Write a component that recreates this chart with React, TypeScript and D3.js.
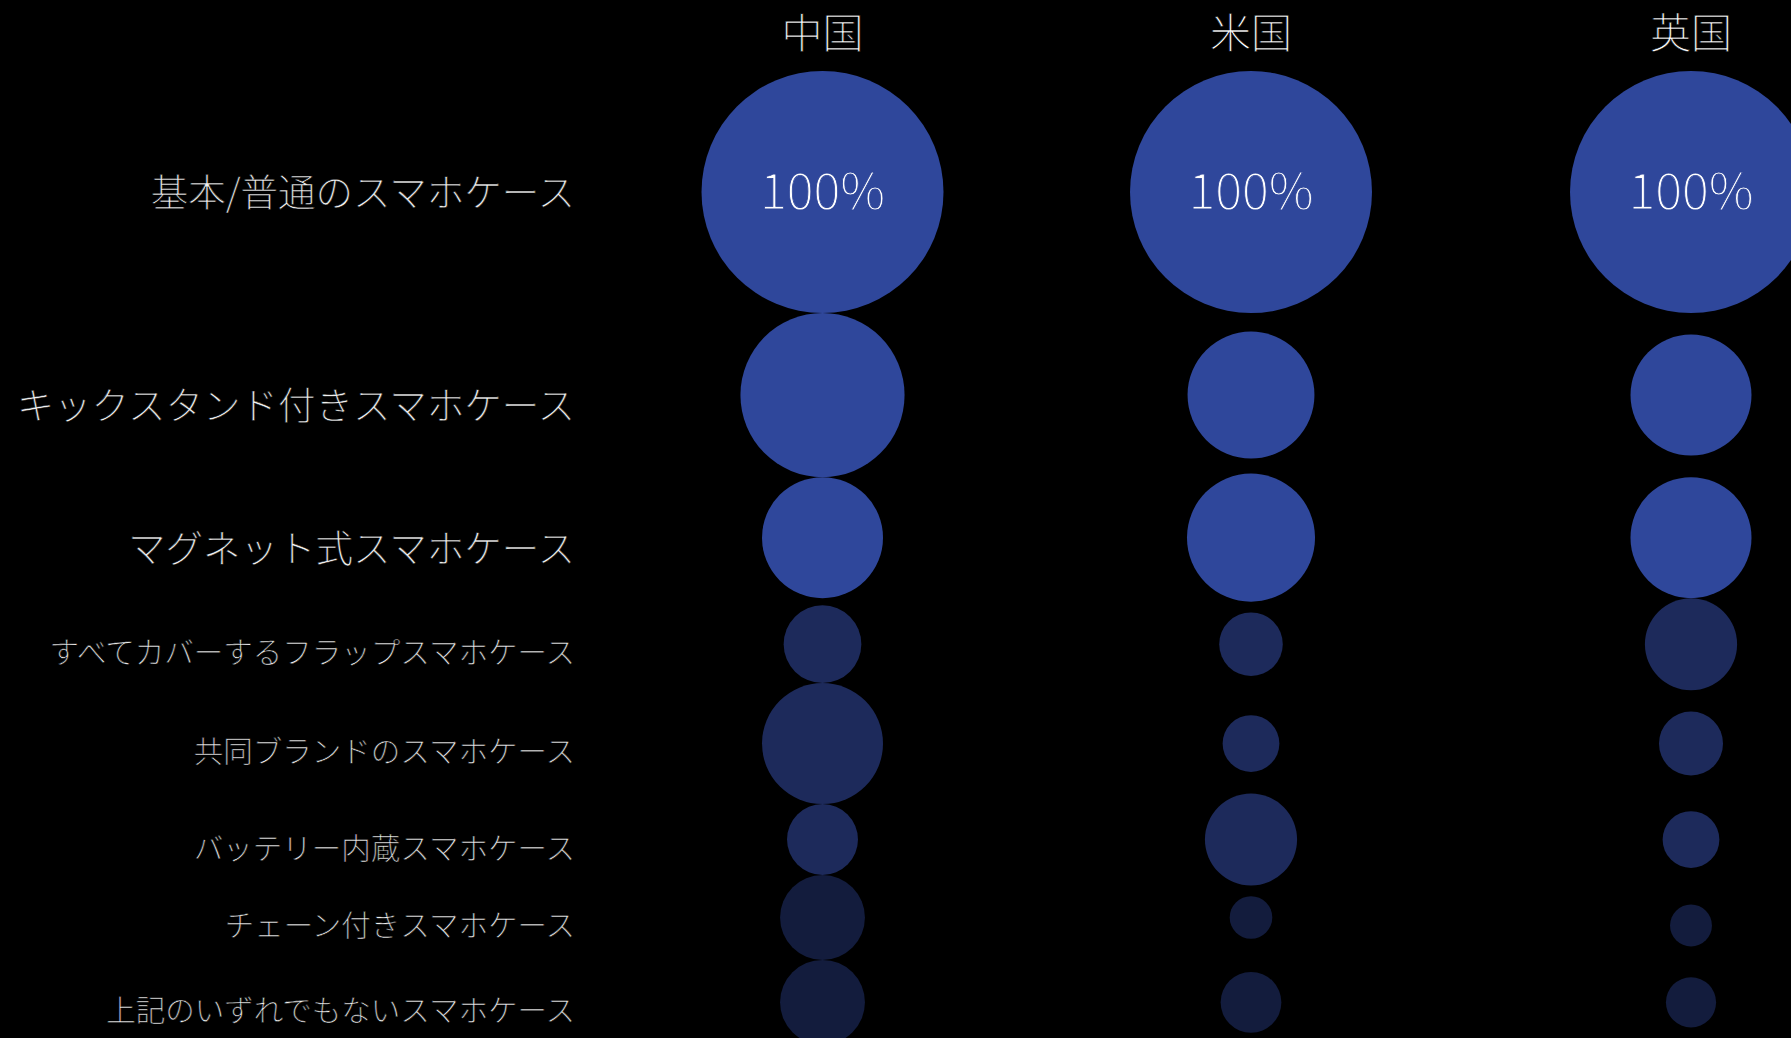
import React from "react";
import * as d3 from "d3";

// ---- data ----
const countries = ["中国", "米国", "英国"];
const caseTypes = [
  "基本/普通のスマホケース",
  "キックスタンド付きスマホケース",
  "マグネット式スマホケース",
  "すべてカバーするフラップスマホケース",
  "共同ブランドのスマホケース",
  "バッテリー内蔵スマホケース",
  "チェーン付きスマホケース",
  "上記のいずれでもないスマホケース",
];
const chinaValues = [100, 46, 25, 10.3, 25, 8.6, 12.3, 12.3];
const usValues = [100, 27.5, 28, 6.9, 5.5, 14.5, 3.1, 6.3];
const ukValues = [100, 25, 25, 14.5, 7, 5.5, 3, 4.3];
const seriesValues = [chinaValues, usValues, ukValues];

// ---- layout / style ----
const W = 1791;
const H = 1038;
const FONT = "'Noto Sans CJK JP', 'Noto Sans', sans-serif";
const colX = [822.5, 1251, 1691];
const firstRowY = 192;
const maxR = 121;
const labelRight = 575;
const tierOf = [0, 0, 0, 1, 1, 1, 2, 2];
const tierColor = ["#2f479b", "#1d2a5b", "#131c3d"];
const labelSize = [37.5, 37.5, 37.5, 29.5, 29.5, 29.5, 29.5, 29.5];
const labelDy = [0, 10, 11, 8, 8, 9, 8, 8];
const nudge: Record<string, number> = { "2-6": 8 };

export default function App() {
  const r = d3.scaleSqrt().domain([0, 100]).range([0, maxR]);
  const x = d3.scaleOrdinal<string, number>().domain(countries).range(colX);

  // stack rows so that the tallest neighbouring bubbles just touch
  const rowY: number[] = [];
  caseTypes.forEach((_, i) => {
    if (i === 0) {
      rowY.push(firstRowY);
    } else {
      const gap = d3.max(seriesValues, (s) => r(s[i - 1]) + r(s[i])) as number;
      rowY.push(rowY[i - 1] + gap);
    }
  });

  return (
    <svg
      width={W}
      height={H}
      style={{ position: "absolute", left: 0, top: 0, display: "block", background: "#000" }}
    >
      <rect x={0} y={0} width={W} height={H} fill="#000" />
      {countries.map((c) => (
        <text
          key={c}
          x={x(c)}
          y={48}
          textAnchor="middle"
          fontFamily={FONT}
          fontWeight={300}
          fontSize={41}
          fill="#ffffff"
          stroke="#000"
          strokeWidth={0.6}
        >
          {c}
        </text>
      ))}
      {caseTypes.map((t, i) => (
        <text
          key={t}
          x={labelRight}
          y={rowY[i] + labelDy[i] + labelSize[i] * 0.36}
          textAnchor="end"
          fontFamily={FONT}
          fontWeight={300}
          fontSize={labelSize[i]}
          fill="#f0f0f0"
          stroke="#000"
          strokeWidth={0.5}
        >
          {t}
        </text>
      ))}
      {countries.map((c, ci) =>
        seriesValues[ci].map((v, i) => {
          const cy = rowY[i] + (nudge[`${ci}-${i}`] || 0);
          const col = tierColor[tierOf[i]];
          return (
            <g key={`${c}-${i}`}>
              <circle cx={x(c)} cy={cy} r={r(v)} fill={col} />
              {v === 100 && (
                <text
                  x={x(c)}
                  y={cy + 50 * 0.33}
                  textAnchor="middle"
                  fontFamily={FONT}
                  fontWeight={300}
                  fontSize={50}
                  fill="#ffffff"
                  stroke={col}
                  strokeWidth={0.8}
                >
                  {`${v}%`}
                </text>
              )}
            </g>
          );
        })
      )}
    </svg>
  );
}
